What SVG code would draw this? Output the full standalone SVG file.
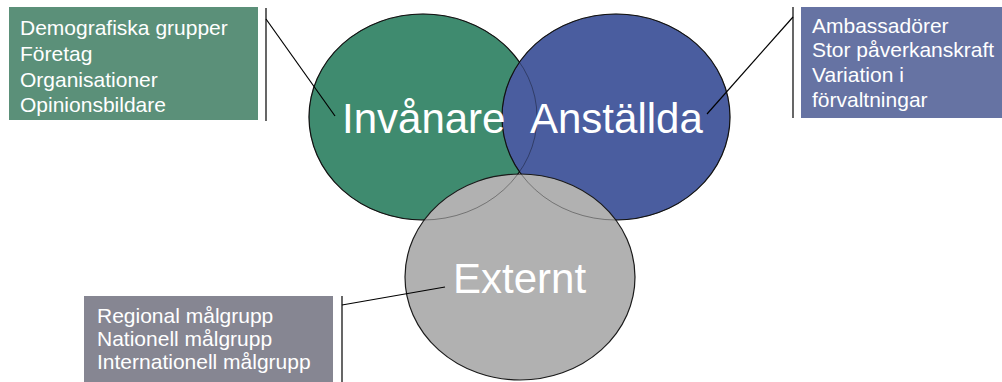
<svg xmlns="http://www.w3.org/2000/svg" width="1002" height="382" viewBox="0 0 1002 382">
  <style>
    .lbl { font-family: "Liberation Sans", Arial, sans-serif; font-size: 21px; fill: #ffffff; }
    .big { font-family: "Liberation Sans", Arial, sans-serif; font-size: 42px; fill: #ffffff; }
    .ell { stroke: #1a1a1a; stroke-width: 1.2; }
    .edge { fill: none; stroke: #000000; stroke-width: 1; stroke-opacity: 0.35; }
    .conn { stroke: #000000; stroke-width: 1.2; fill: none; }
  </style>
  <rect width="1002" height="382" fill="#ffffff"/>

  <g id="node-invanare">
    <ellipse class="ell" cx="423" cy="117" rx="114" ry="103" fill="#3f8b6f"/>
  </g>
  <g id="node-anstallda">
    <ellipse class="ell" cx="616" cy="117" rx="114" ry="103" fill="#4a5d9f"/>
  </g>
  <g id="node-externt">
    <ellipse class="ell" cx="520" cy="277" rx="115" ry="103" fill="#b1b1b1"/>
  </g>
  <g id="overlap-edges">
    <ellipse class="edge" cx="423" cy="117" rx="114" ry="103"/>
    <ellipse class="edge" cx="616" cy="117" rx="114" ry="103"/>
  </g>
  <g id="big-labels">
    <text class="big" x="342" y="133">Invånare</text>
    <text class="big" x="530" y="133">Anställda</text>
    <text class="big" x="453" y="293">Externt</text>
  </g>

  <g id="box-invanare">
    <rect x="9" y="7" width="249" height="113" fill="#5b9079"/>
    <text class="lbl" x="20" y="35">Demografiska grupper</text>
    <text class="lbl" x="20" y="61">Företag</text>
    <text class="lbl" x="20" y="87">Organisationer</text>
    <text class="lbl" x="20" y="112">Opinionsbildare</text>
  </g>
  <g id="box-anstallda">
    <rect x="801" y="7" width="201" height="111" fill="#6673a3"/>
    <text class="lbl" x="812" y="33">Ambassadörer</text>
    <text class="lbl" x="812" y="57">Stor påverkanskraft</text>
    <text class="lbl" x="812" y="82">Variation i</text>
    <text class="lbl" x="812" y="107">förvaltningar</text>
  </g>
  <g id="box-externt">
    <rect x="84" y="296" width="249" height="86" fill="#868692"/>
    <text class="lbl" x="97" y="323">Regional målgrupp</text>
    <text class="lbl" x="97" y="346">Nationell målgrupp</text>
    <text class="lbl" x="97" y="369">Internationell målgrupp</text>
  </g>

  <g id="connectors">
    <line class="conn" x1="266" y1="8" x2="266" y2="121"/>
    <line class="conn" x1="266" y1="19" x2="335" y2="116"/>
    <line class="conn" x1="793" y1="7" x2="793" y2="118"/>
    <line class="conn" x1="793" y1="17" x2="707" y2="114"/>
    <line class="conn" x1="342" y1="296" x2="342" y2="382"/>
    <line class="conn" x1="342" y1="305" x2="445" y2="287"/>
  </g>
</svg>
